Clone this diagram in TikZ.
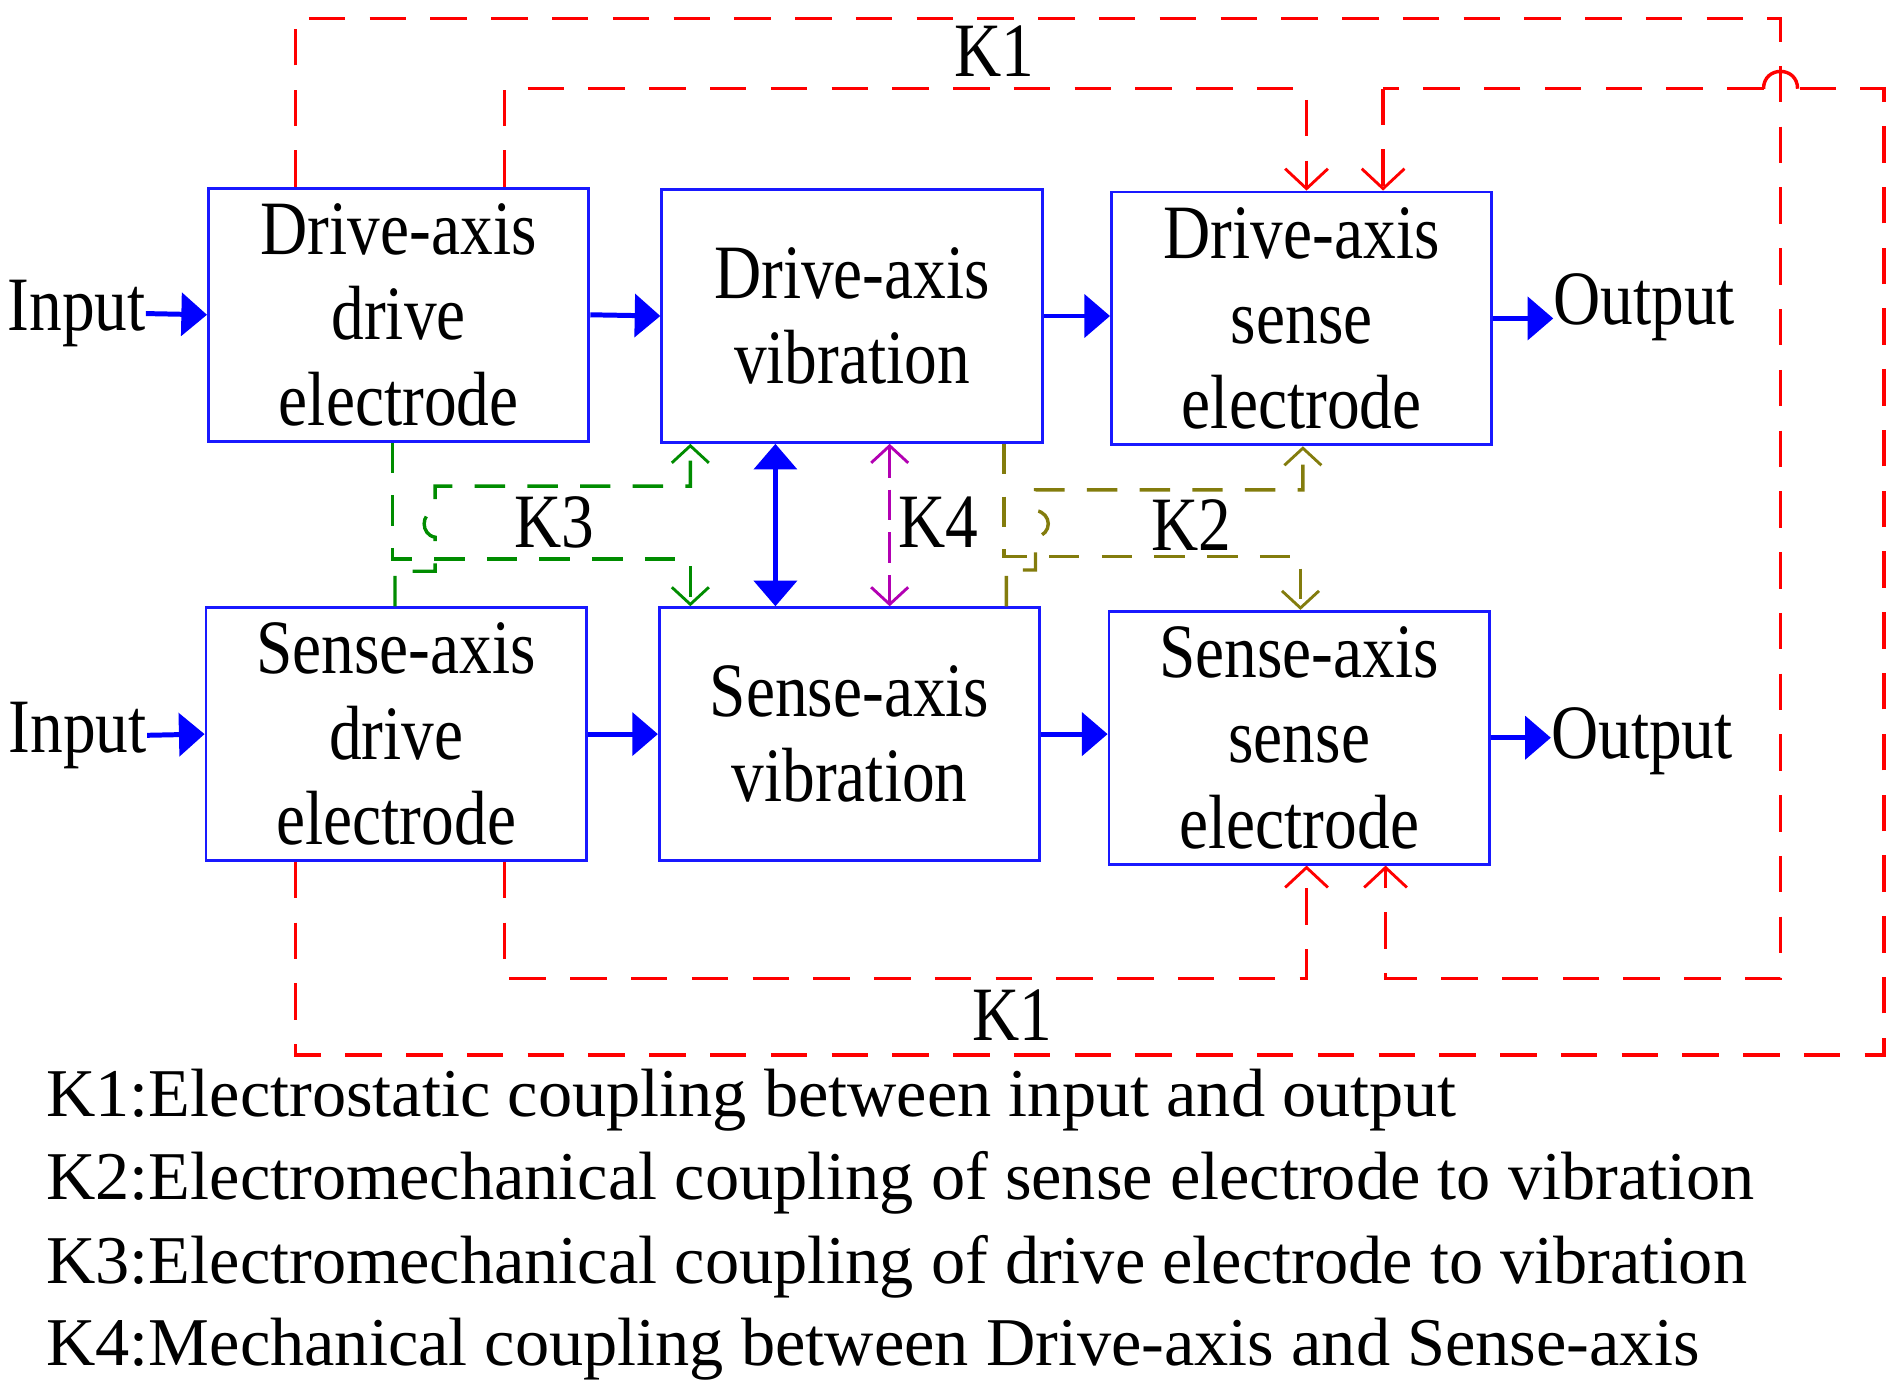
\documentclass[tikz,border=0pt]{standalone}
\usepackage{fontspec}
\setmainfont{Liberation Serif}
\newfontfamily\cond{Liberation Serif}[FakeStretch=0.85]
\usetikzlibrary{arrows.meta}
\begin{document}
\begin{tikzpicture}[x=0.03cm,y=-0.03cm,
 box/.style={draw=blue!90!white,line width=2pt,minimum width=9.39cm,minimum height=6.24cm,align=center,font=\cond\fontsize{54}{60}\selectfont,inner sep=0pt},
 bl/.style={draw=blue,line width=3.5pt,-{Triangle[length=18pt,width=30pt]}},
 red/.style={draw=red,line width=2.4pt,dash pattern=on 0.9cm off 0.6cm},
 redar/.style={red,-{Straight Barb[length=14pt,width=30pt,line width=2pt]}},
 grn/.style={draw=green!55!black,line width=2.4pt,dash pattern=on 0.75cm off 0.55cm},
 olv/.style={draw=olive!90!black,line width=2.4pt,dash pattern=on 0.75cm off 0.55cm},
 ar/.style={-{Straight Barb[length=12pt,width=26pt,line width=2pt]}},
 lbl/.style={font=\cond\fontsize{54}{58}\selectfont},
 leg/.style={font=\fontsize{48}{52}\selectfont,anchor=west,inner sep=0pt}]
\useasboundingbox (0,0) rectangle (1560,1150);
\node[box] (A) at (328,259) {Drive-axis\\drive\\electrode};
\node[box] (B) at (701,260) {Drive-axis\\vibration};
\node[box] (C) at (1071,262) {Drive-axis\\sense\\electrode};
\node[box] (D) at (326,604) {Sense-axis\\drive\\electrode};
\node[box] (E) at (699,604) {Sense-axis\\vibration};
\node[box] (F) at (1069,607) {Sense-axis\\sense\\electrode};
% inputs / outputs
\node[lbl,anchor=east,inner sep=0pt] (i1) at (120,258) {Input};
\node[lbl,anchor=east,inner sep=0pt] (i2) at (121,605) {Input};
\draw[bl] (i1.east) -- (A.west);
\draw[bl] (i2.east) -- (D.west);
\node[lbl,anchor=west,inner sep=0pt] (o1) at (1278,253) {Output};
\node[lbl,anchor=west,inner sep=0pt] (o2) at (1276,610) {Output};
\draw[bl] (C.east) -- (o1.west |- C.east);
\draw[bl] (F.east) -- (o2.west |- F.east);
\draw[bl] (A.east) -- (B.west);
\draw[bl] (D.east) -- (E.west);
\draw[bl] (B.east) -- (C.west |- B.east);
\draw[bl] (E.east) -- (F.west |- E.east);
\draw[draw=blue,line width=3.5pt,{Triangle[length=18pt,width=30pt]}-{Triangle[length=18pt,width=30pt]}] (638,0 |- B.south) -- (638,0 |- E.north);
\draw[draw=violet!60!magenta,line width=2pt,dash pattern=on 0.75cm off 0.3cm,{Straight Barb[length=12pt,width=26pt,line width=2pt]}-{Straight Barb[length=12pt,width=26pt,line width=2pt]}] (732,0 |- B.south) -- (732,0 |- E.north);
\node[lbl] (k4) at (772,430) {K4};
% K1 red
\coordinate (a1) at (243,0 |- A.north);
\coordinate (a2) at (415,0 |- A.north);
\coordinate (d1) at (243,0 |- D.south);
\coordinate (d2) at (415,0 |- D.south);
\draw[redar] (a1) -- (243,15) -- (1465,15) -- (1465,805) -- (1140,805) -- (1140,0 |- F.south);
\draw[redar] (a2) -- (415,73) -- (1075,73) -- (1075,0 |- C.north);
\draw[redar] (d2) -- (415,805) -- (1075,805) -- (1075,0 |- F.south);
\draw[red] (d1) -- (243,868) -- (1550,868) -- (1550,73) -- (1479,73);
\draw[draw=red,line width=2.4pt] (1479,73) .. controls (1479,54) and (1451,54) .. (1451,73);
\draw[red] (1451,73) -- (1138,73);
\draw[redar] (1138,73) -- (1138,0 |- C.north);
\node[lbl] (k1a) at (818,42) {K1};
\node[lbl] (k1b) at (833,835) {K1};
% K3 green
\draw[grn,ar] (323,0 |- A.south) -- (323,460) -- (568,460) -- (568,0 |- E.north);
\draw[grn,ar] (325,0 |- D.north) -- (325,470) -- (358,470) -- (358,442) .. controls (346,440) and (346,422) .. (358,420) -- (358,400) -- (568,400) -- (568,0 |- B.south);
\node[lbl] (k3) at (456,430) {K3};
% K2 olive
\draw[olv,ar] (826,0 |- B.south) -- (826,458) -- (1070,458) -- (1070,0 |- F.north);
\draw[olv,ar] (828,0 |- E.north) -- (828,469) -- (852,469) -- (852,442) .. controls (866,440) and (866,422) .. (852,420) -- (852,403) -- (1072,403) -- (1072,0 |- C.south);
\node[lbl] (k2) at (980,432) {K2};
% legend
\node[leg] (l1) at (38,905) {K1:Electrostatic coupling between input and output};
\node[leg] (l2) at (38,973) {K2:Electromechanical coupling of sense electrode to vibration};
\node[leg] (l3) at (38,1042) {K3:Electromechanical coupling of drive electrode to vibration};
\node[leg] (l4) at (38,1110) {K4:Mechanical coupling between Drive-axis and Sense-axis};
\end{tikzpicture}
\end{document}
